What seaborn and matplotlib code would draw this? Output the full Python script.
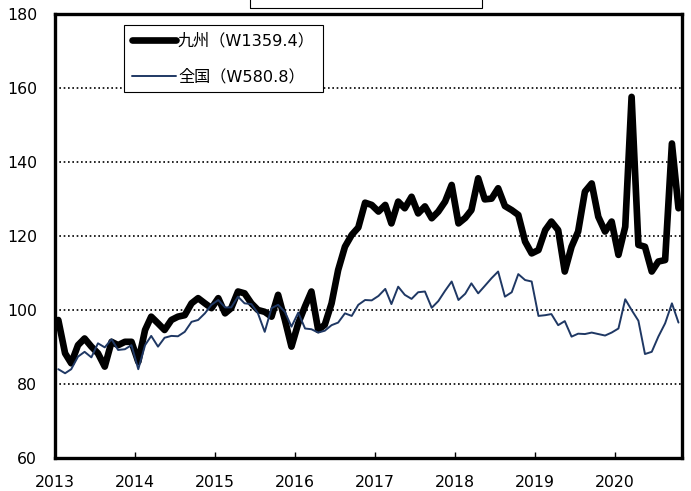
import matplotlib
matplotlib.use("Agg")
import matplotlib.pyplot as plt
import matplotlib.dates as mdates
from matplotlib.patches import Rectangle
import pandas as pd
import seaborn as sns

# monthly index values, Jan 2013 - Oct 2020
months = pd.date_range("2013-01-01", "2020-10-01", freq="MS")
kyushu = [
    97.3, 88.3, 85.6, 90.5, 92.3, 90.1, 88.3, 84.7, 91.4, 90.5, 91.4, 91.4,
    86.0, 94.6, 98.2, 96.4, 94.6, 97.3, 98.2, 98.6, 101.8, 103.2, 101.8, 100.5,
    103.2, 99.1, 100.5, 105.0, 104.5, 101.8, 100.0, 99.5, 98.2, 104.1, 97.3, 90.1,
    96.4, 101.0, 105.0, 94.6, 96.0, 101.8, 110.8, 117.1, 120.3, 122.3, 129.0, 128.4,
    126.6, 128.4, 123.4, 129.3, 127.5, 130.6, 126.1, 128.0, 124.8, 126.6, 129.3, 133.8,
    123.4, 124.9, 127.0, 135.6, 129.9, 130.1, 132.9, 128.1, 127.0, 125.7, 118.5, 115.3,
    116.2, 121.6, 123.9, 121.6, 110.4, 117.1, 121.2, 132.0, 134.2, 125.2, 121.2, 123.9,
    114.9, 122.5, 157.6, 117.6, 117.1, 110.4, 113.1, 113.5, 145.0, 127.5,
]
zenkoku = [
    84.0, 82.9, 84.0, 87.4, 88.7, 87.2, 91.0, 89.9, 92.1, 89.2, 89.4, 90.5,
    84.0, 90.5, 93.0, 90.1, 92.5, 93.0, 92.9, 94.1, 96.8, 97.3, 99.1, 101.4,
    102.7, 100.7, 100.7, 103.6, 101.8, 101.6, 99.1, 94.1, 100.5, 101.4, 99.5, 95.5,
    99.3, 95.0, 94.8, 93.9, 94.4, 95.9, 96.6, 99.1, 98.4, 101.4, 102.7, 102.6,
    103.8, 105.7, 101.6, 106.3, 104.1, 103.0, 104.8, 105.0, 100.6, 102.4, 105.2, 107.7,
    102.7, 104.4, 107.2, 104.5, 106.5, 108.6, 110.4, 103.6, 104.8, 109.7, 108.1, 107.7,
    98.4, 98.6, 98.9, 95.9, 97.0, 92.8, 93.6, 93.5, 93.9, 93.5, 93.1, 93.9,
    95.0, 102.9, 100.0, 97.1, 88.1, 88.7, 92.8, 96.4, 101.8, 96.6,
]
series_labels = ["九州（W1359.4）", "全国（W580.8）"]
y_ticks = [60, 80, 100, 120, 140, 160, 180]

sns.set_theme(style="white")
plt.rcParams["font.family"] = ["DejaVu Sans", "Noto Sans CJK JP"]

W, H = 691, 491
fig = plt.figure(figsize=(W / 100, H / 100), dpi=100)
ax = fig.add_axes([55 / W, 1 - 458 / H, (682 - 55) / W, (458 - 14) / H])

df = pd.DataFrame({
    "month": months + pd.Timedelta(days=15),
    "kyushu": kyushu,
    "zenkoku": zenkoku,
})
sns.lineplot(data=df, x="month", y="kyushu", color="black", linewidth=4.8,
             label=series_labels[0], ax=ax, solid_joinstyle="round")
sns.lineplot(data=df, x="month", y="zenkoku", color="#1F3864", linewidth=1.4,
             label=series_labels[1], ax=ax)

ax.set_xlim(pd.Timestamp("2013-01-01"), pd.Timestamp("2020-11-01"))
ax.set_ylim(60, 180)
ax.set_yticks(y_ticks)
ax.xaxis.set_major_locator(mdates.YearLocator())
ax.xaxis.set_major_formatter(mdates.DateFormatter("%Y"))
ax.set_xlabel("")
ax.set_ylabel("")

ax.set_axisbelow(True)
ax.yaxis.grid(True, color="black", linestyle=(0, (1, 1.6)), linewidth=1.2)
ax.xaxis.grid(False)

for side in ["left", "right", "top", "bottom"]:
    ax.spines[side].set_visible(True)
    ax.spines[side].set_color("black")
    ax.spines[side].set_linewidth(2.4)

ax.tick_params(axis="x", direction="in", length=4, width=1, color="black",
               labelsize=11.3, labelcolor="black", pad=12, bottom=True)
ax.tick_params(axis="y", length=0, labelsize=11.3, labelcolor="black", pad=13)

leg = ax.legend(loc="upper left", bbox_to_anchor=(124 / W, 1 - 25 / H),
                bbox_transform=fig.transFigure, frameon=True, fancybox=False,
                edgecolor="black", framealpha=1, borderaxespad=0, borderpad=0.5,
                labelspacing=1.25, handlelength=2.7, handletextpad=0.15,
                fontsize=11.6, labelcolor="black")
leg.get_frame().set_linewidth(0.8)

# title box cut off at the top of the image
fig.patches.append(Rectangle((250 / W, 1 - 8 / H), (482 - 250) / W, 20 / H,
                             transform=fig.transFigure, fill=False,
                             edgecolor="black", linewidth=0.8))

fig.savefig("out.png", dpi=100, facecolor="white")
